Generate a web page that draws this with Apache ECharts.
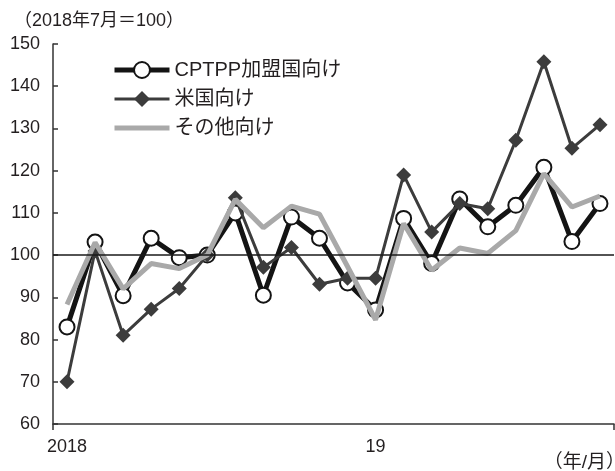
<!DOCTYPE html>
<html>
<head>
<meta charset="utf-8">
<script src="https://cdn.jsdelivr.net/npm/echarts@6/dist/echarts.min.js"></script>
<style>
  html, body { margin: 0; padding: 0; background: #fff; }
  #chart { width: 615px; height: 471px; }
</style>
</head>
<body>
<div id="chart"></div>
<script>
// Monthly index, Feb 2018 – Sep 2019 (July 2018 = 100)
const months = [
  '2018/2', '2018/3', '2018/4', '2018/5', '2018/6', '2018/7', '2018/8', '2018/9',
  '2018/10', '2018/11', '2018/12', '2019/1', '2019/2', '2019/3', '2019/4', '2019/5',
  '2019/6', '2019/7', '2019/8', '2019/9'
];
// Axis labels shown under the category axis (index -> text)
const tickLabels = { 0: '2018', 11: '19' };
const yearStartIndex = 11;

const cptpp = [83, 103.1, 90.4, 104, 99.4, 100, 110, 90.5, 109, 104,
               93.4, 87, 108.7, 98, 113.3, 106.7, 111.8, 120.8, 103.2, 112.2];
const usa = [70, 101, 81, 87.2, 92.1, 100, 113.6, 97.1, 101.8, 93.1,
             94.5, 94.5, 119, 105.5, 112.2, 111, 127.2, 145.8, 125.3, 130.9];
const others = [88.3, 103, 92, 98, 96.8, 100, 113.2, 106.5, 111.6, 109.7,
                97.3, 84.7, 107.5, 96.4, 101.7, 100.4, 105.8, 119.3, 111.4, 114];

const seriesNames = ['CPTPP加盟国向け', '米国向け', 'その他向け'];
const baseValue = 100;

const FONT = '"Liberation Sans", "Noto Sans CJK JP", sans-serif';
const TEXT = '#231f20';

const chart = echarts.init(document.getElementById('chart'), null, { renderer: 'canvas' });

chart.setOption({
  animation: false,
  backgroundColor: '#fff',
  textStyle: { fontFamily: FONT },
  grid: { left: 53, right: 1, top: 44, bottom: 47, containLabel: false },
  graphic: [
    {
      type: 'text', left: 14, top: 12,
      style: { text: '（2018年7月＝100）', font: '18px ' + FONT, fill: TEXT }
    },
    {
      type: 'text', right: -10, top: 453,
      style: { text: '（年/月）', font: '19px ' + FONT, fill: TEXT }
    }
  ],
  legend: {
    orient: 'vertical',
    left: 107, top: 55,
    itemWidth: 55, itemHeight: 20, itemGap: 9,
    lineStyle: { width: 'inherit' },
    textStyle: { fontSize: 20, color: TEXT, fontFamily: FONT },
    data: [
      { name: seriesNames[0] },
      { name: seriesNames[1] },
      { name: seriesNames[2], itemStyle: { color: 'transparent', borderWidth: 0, opacity: 0 } }
    ]
  },
  xAxis: {
    type: 'category',
    data: months,
    boundaryGap: true,
    axisLine: { lineStyle: { color: '#333', width: 1.5 } },
    axisTick: {
      show: true, inside: false, length: 6,
      interval: (i) => i === yearStartIndex,
      lineStyle: { color: '#333', width: 1.5 }
    },
    axisLabel: {
      interval: (i) => tickLabels[i] !== undefined,
      formatter: (v, i) => tickLabels[i] || '',
      fontSize: 18, color: TEXT, margin: 14, fontFamily: FONT
    },
    splitLine: { show: false }
  },
  yAxis: {
    type: 'value',
    min: 60, max: 150, interval: 10,
    axisLine: { show: true, lineStyle: { color: '#333', width: 1.5 } },
    axisTick: { show: true, inside: true, length: 5, lineStyle: { color: '#333', width: 1.5 } },
    axisLabel: { fontSize: 18, color: TEXT, margin: 13, fontFamily: FONT },
    splitLine: { show: false }
  },
  series: [
    {
      name: seriesNames[0],
      type: 'line',
      data: cptpp,
      z: 2,
      symbol: 'circle',
      symbolSize: 15,
      lineStyle: { color: '#141414', width: 5 },
      itemStyle: { color: '#fff', borderColor: '#141414', borderWidth: 2 }
    },
    {
      name: seriesNames[1],
      type: 'line',
      data: usa,
      z: 3,
      symbol: 'diamond',
      symbolSize: 15,
      lineStyle: { color: '#3c3c3c', width: 3 },
      itemStyle: { color: '#3c3c3c' }
    },
    {
      name: seriesNames[2],
      type: 'line',
      data: others,
      z: 4,
      symbol: 'none',
      lineStyle: { color: '#a9a9a9', width: 5 },
      itemStyle: { color: '#a9a9a9' },
      markLine: {
        silent: true,
        symbol: ['none', 'none'],
        label: { show: false },
        lineStyle: { color: '#1a1a1a', width: 1.5, type: 'solid' },
        data: [{ yAxis: baseValue }]
      }
    }
  ]
});
</script>
</body>
</html>
